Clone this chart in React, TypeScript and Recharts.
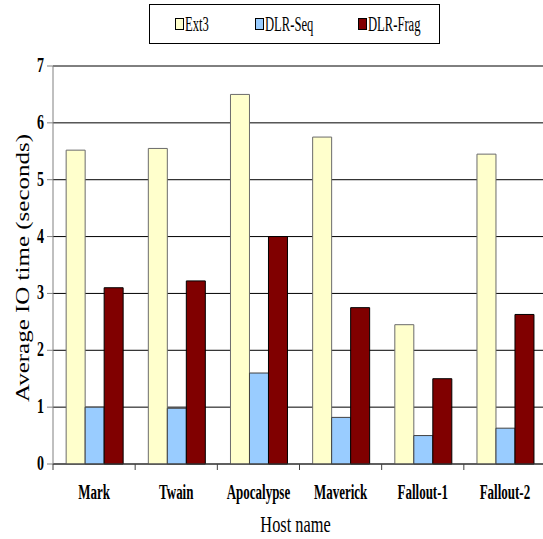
import React from "react";
import { BarChart, Bar, XAxis, YAxis, CartesianGrid, Legend } from "recharts";

const hosts = ["Mark", "Twain", "Apocalypse", "Maverick", "Fallout-1", "Fallout-2"];
const ext3 = [5.52, 5.55, 6.5, 5.75, 2.45, 5.45];
const dlrSeq = [1.0, 0.98, 1.6, 0.82, 0.5, 0.63];
const dlrFrag = [3.1, 3.22, 4.0, 2.75, 1.5, 2.63];
const yTicks = [0, 1, 2, 3, 4, 5, 6, 7];

const SERIES = [
  { key: "ext3", name: "Ext3", fill: "#FFFFCC", stroke: "#6b6b6b" },
  { key: "dlrSeq", name: "DLR-Seq", fill: "#99CCFF", stroke: "#404040" },
  { key: "dlrFrag", name: "DLR-Frag", fill: "#800000", stroke: "#000000" },
];

const FONT = "'Times New Roman', 'Liberation Serif', Tinos, 'DejaVu Serif', serif";

const data = hosts.map((h, i) => ({
  host: h,
  ext3: ext3[i],
  dlrSeq: dlrSeq[i],
  dlrFrag: dlrFrag[i],
}));

function XTick(props: any) {
  const { x, y, payload, width, visibleTicksCount, index } = props;
  const half = width / visibleTicksCount / 2;
  const isLast = index === visibleTicksCount - 1;
  return (
    <g>
      <line x1={x - half} y1={y} x2={x - half} y2={y + 6} stroke="#404040" />
      {isLast && <line x1={x + half} y1={y} x2={x + half} y2={y + 6} stroke="#404040" />}
      <text
        transform={`translate(${x},${y + 35}) scale(0.65,1)`}
        textAnchor="middle"
        style={{ fontFamily: FONT }}
        fontWeight="bold"
        fontSize={20}
        fill="#000"
      >
        {payload.value}
      </text>
    </g>
  );
}

function YTick(props: any) {
  const { x, y, payload } = props;
  return (
    <text
      transform={`translate(${x},${y + 6}) scale(0.7,1)`}
      textAnchor="end"
      style={{ fontFamily: FONT }}
      fontWeight="bold"
      fontSize={20}
      fill="#000"
    >
      {payload.value}
    </text>
  );
}

function LegendBox() {
  return (
    <div
      style={{
        boxSizing: "border-box",
        width: 291,
        height: 40,
        border: "1px solid #000",
        background: "#fff",
        position: "relative",
        fontFamily: FONT,
      }}
    >
      {SERIES.map((s, i) => (
        <div
          key={s.key}
          style={{ position: "absolute", left: [25, 105, 208][i], top: 8, display: "flex", alignItems: "center" }}
        >
          <span
            style={{
              display: "inline-block",
              width: 7,
              height: 10,
              background: s.fill,
              border: "1px solid #000",
            }}
          />
          <span
            style={{
              display: "inline-block",
              fontSize: 20,
              lineHeight: "22px",
              transform: "scaleX(0.63)",
              transformOrigin: "left center",
              marginLeft: 1,
              whiteSpace: "nowrap",
            }}
          >
            {s.name}
          </span>
        </div>
      ))}
    </div>
  );
}

function YLabel() {
  return (
    <text
      transform="translate(29,268) scale(0.74,1) rotate(-90)"
      textAnchor="middle"
      style={{ fontFamily: FONT }}
      fontSize={25}
      fill="#000"
    >
      Average IO time (seconds)
    </text>
  );
}

export default function App() {
  return (
    <div style={{ position: "absolute", left: 0, top: 0, width: 543, height: 539, overflow: "hidden", background: "#fff" }}>
      <BarChart
        width={546}
        height={539}
        data={data}
        margin={{ top: 66, right: 0, left: 0, bottom: 0 }}
        barCategoryGap="16%"
        barGap={0}
      >
        <CartesianGrid vertical={false} stroke="#000" strokeWidth={1} />
        <XAxis
          dataKey="host"
          height={75}
          tickLine={false}
          tickSize={0}
          tickMargin={0}
          axisLine={{ stroke: "#404040" }}
          tick={<XTick />}
          interval={0}
          label={{
            value: "Host name",
            content: (p: any) => (
              <text
                transform={`translate(${p.viewBox.x + p.viewBox.width / 2 - 4},532) scale(0.71,1)`}
                textAnchor="middle"
                style={{ fontFamily: FONT }}
                fontSize={23}
                fill="#000"
              >
                Host name
              </text>
            ),
          }}
        />
        <YAxis
          width={53}
          domain={[0, 7]}
          ticks={yTicks}
          interval={0}
          tickSize={6}
          tickMargin={3}
          tickLine={{ stroke: "#808080" }}
          axisLine={{ stroke: "#808080" }}
          tick={<YTick />}
          label={{ value: "Average IO time (seconds)", content: () => <YLabel /> }}
        />
        <Legend
          layout="horizontal"
          verticalAlign="middle"
          align="center"
          wrapperStyle={{ top: 4, left: 149, width: 291, height: 40 }}
          content={() => <LegendBox />}
        />
        {SERIES.map((s) => (
          <Bar
            key={s.key}
            dataKey={s.key}
            name={s.name}
            fill={s.fill}
            stroke={s.stroke}
            strokeWidth={1}
            isAnimationActive={false}
          />
        ))}
      </BarChart>
    </div>
  );
}
